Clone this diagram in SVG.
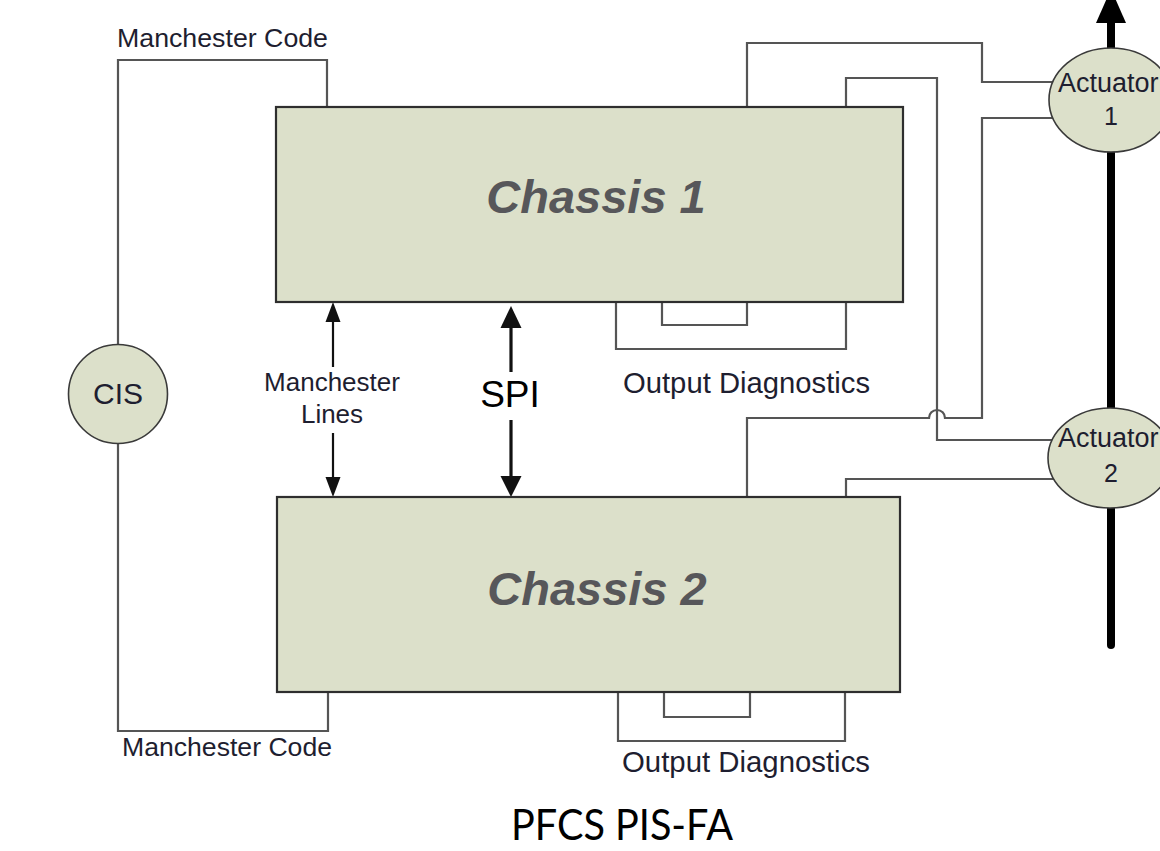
<svg xmlns="http://www.w3.org/2000/svg" width="1160" height="851" viewBox="0 0 1160 851">
<defs>
<style>
.bg{fill:#ffffff}
.box{fill:#dce0ca;stroke:#2e2e2e;stroke-width:2.2}
.node{fill:#dce0ca;stroke:#3a3a3a;stroke-width:1.6}
.wire{fill:none;stroke:#555555;stroke-width:2.2}
.lbl{font-family:"Liberation Sans",Arial,sans-serif;fill:#1e1e30}
.ch{font-family:"Liberation Sans",Arial,sans-serif;font-weight:bold;font-style:italic;fill:#57575a;font-size:47px;text-anchor:middle}
.arr{stroke:#111;fill:none}
</style>
</defs>
<rect class="bg" x="0" y="0" width="1160" height="851"/>

<g id="connectors">
  <path class="wire" d="M327,107 V60 H118 V345"/>
  <path class="wire" d="M118,443 V731 H328 V692"/>
  <path class="wire" d="M747,107 V43 H982 V82 H1060"/>
  <path class="wire" d="M846,107 V78 H937 V440 H1060"/>
  <path class="wire" d="M1060,118 H982 V418 H945 A8,8 0 0 0 929,418 H747 V497"/>
  <path class="wire" d="M1060,479 H846 V497"/>
  <path class="wire" d="M616,302 V349 H846 V302"/>
  <path class="wire" d="M662,302 V325 H747 V302"/>
  <path class="wire" d="M618,692 V741 H845 V692"/>
  <path class="wire" d="M664,692 V717 H750 V692"/>
  <line class="arr" x1="333" y1="367" x2="333" y2="318" stroke-width="2.2"/>
  <path d="M333,302 L325.5,322 L340.5,322 Z" fill="#111"/>
  <line class="arr" x1="333" y1="433" x2="333" y2="481" stroke-width="2.2"/>
  <path d="M333,497 L325.5,477 L340.5,477 Z" fill="#111"/>
  <line class="arr" x1="511" y1="372" x2="511" y2="322" stroke-width="3.2"/>
  <path d="M511,306 L500.5,328 L521.5,328 Z" fill="#111"/>
  <line class="arr" x1="511" y1="420" x2="511" y2="480" stroke-width="3.2"/>
  <path d="M511,497 L500.5,476 L521.5,476 Z" fill="#111"/>
  <line x1="1111" y1="645" x2="1111" y2="20" stroke="#000" stroke-width="8" stroke-linecap="round"/>
  <path d="M1111,-11 L1096,23 L1126,23 Z" fill="#000"/>
</g>

<g id="chassis1">
  <rect class="box" x="276" y="107" width="627" height="195"/>
  <text class="ch" x="596" y="213">Chassis 1</text>
</g>

<g id="chassis2">
  <rect class="box" x="277" y="497" width="623" height="195"/>
  <text class="ch" x="597" y="605">Chassis 2</text>
</g>

<g id="cis">
  <circle class="node" cx="118" cy="394" r="49.5"/>
  <text class="lbl" x="118" y="404" font-size="30" text-anchor="middle">CIS</text>
</g>

<g id="actuator1">
  <ellipse class="node" cx="1111" cy="100" rx="62" ry="52"/>
  <text class="lbl" x="1058" y="92" font-size="27">Actuator</text>
  <text class="lbl" x="1111" y="125" font-size="25" text-anchor="middle">1</text>
</g>

<g id="actuator2">
  <ellipse class="node" cx="1110" cy="458" rx="62" ry="50"/>
  <text class="lbl" x="1058" y="447" font-size="27">Actuator</text>
  <text class="lbl" x="1111" y="482" font-size="25" text-anchor="middle">2</text>
</g>

<g id="labels">
  <text class="lbl" x="117" y="47" font-size="26" textLength="211" lengthAdjust="spacingAndGlyphs">Manchester Code</text>
  <text class="lbl" x="122" y="756" font-size="26" textLength="210" lengthAdjust="spacingAndGlyphs">Manchester Code</text>
  <text class="lbl" x="332" y="391" font-size="26" text-anchor="middle">Manchester</text>
  <text class="lbl" x="332" y="423" font-size="26" text-anchor="middle">Lines</text>
  <text class="lbl" x="510" y="407" font-size="37" text-anchor="middle" style="fill:#000">SPI</text>
  <text class="lbl" x="623" y="393" font-size="29" textLength="247" lengthAdjust="spacingAndGlyphs">Output Diagnostics</text>
  <text class="lbl" x="622" y="772" font-size="29" textLength="248" lengthAdjust="spacingAndGlyphs">Output Diagnostics</text>
  <text x="622" y="840" font-family="Lato,'Open Sans',sans-serif" font-size="42" fill="#000" text-anchor="middle" textLength="222" lengthAdjust="spacingAndGlyphs">PFCS PIS-FA</text>
</g>
</svg>
